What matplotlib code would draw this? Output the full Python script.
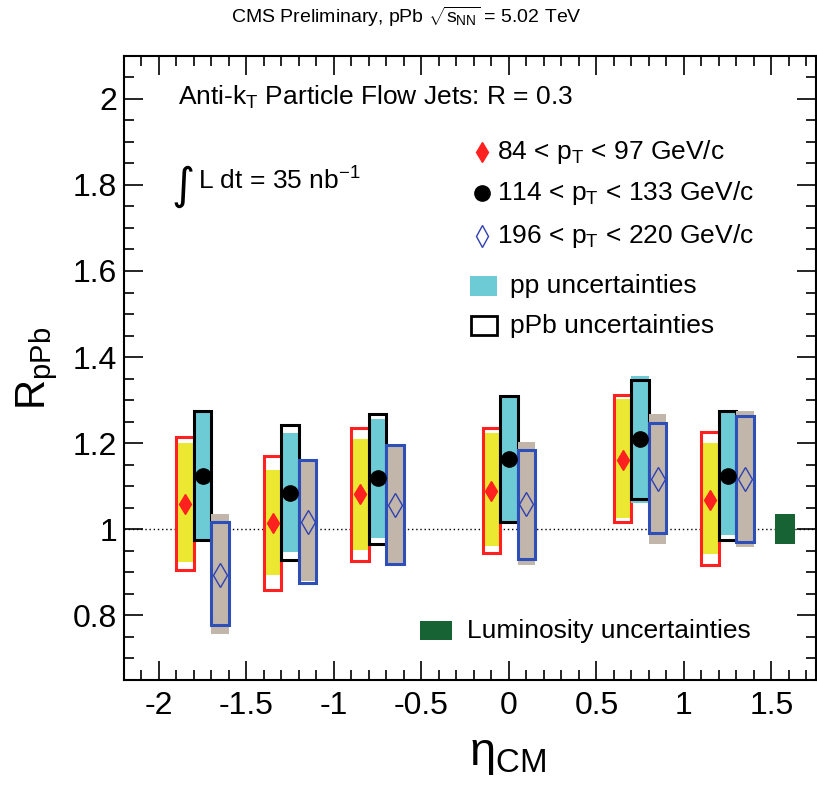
import matplotlib
matplotlib.use("Agg")
import matplotlib.pyplot as plt
from matplotlib.patches import Rectangle
from matplotlib.ticker import MultipleLocator

plt.rcParams['font.family'] = ['Liberation Sans', 'DejaVu Sans']
plt.rcParams['mathtext.fontset'] = 'custom'
plt.rcParams['mathtext.rm'] = 'Liberation Sans'
plt.rcParams['mathtext.it'] = 'Liberation Sans'
plt.rcParams['mathtext.bf'] = 'Liberation Sans:bold'

# eta_CM bin centres, the three pT selections are shifted by -0.1 / 0 / +0.1
eta = [-1.75, -1.25, -0.75, 0.0, 0.75, 1.25]
shift = [-0.1, 0.0, 0.1]

# 84 < pT < 97
r84 = [1.058, 1.014, 1.081, 1.090, 1.161, 1.067]
r84_ppb_lo = [0.906, 0.860, 0.927, 0.946, 1.016, 0.916]
r84_ppb_hi = [1.214, 1.171, 1.236, 1.236, 1.312, 1.227]
r84_pp_lo = [0.923, 0.894, 0.952, 0.962, 1.027, 0.942]
r84_pp_hi = [1.201, 1.138, 1.210, 1.223, 1.303, 1.200]

# 114 < pT < 133
r114 = [1.124, 1.084, 1.119, 1.163, 1.209, 1.124]
r114_ppb_lo = [0.975, 0.929, 0.967, 1.018, 1.070, 0.975]
r114_ppb_hi = [1.274, 1.243, 1.267, 1.309, 1.347, 1.274]
r114_pp_lo = [0.978, 0.948, 0.979, 1.020, 1.060, 0.987]
r114_pp_hi = [1.270, 1.223, 1.257, 1.305, 1.357, 1.270]

# 196 < pT < 220
r196 = [0.894, 1.016, 1.057, 1.058, 1.116, 1.116]
r196_ppb_lo = [0.777, 0.876, 0.919, 0.931, 0.991, 0.971]
r196_ppb_hi = [1.018, 1.161, 1.195, 1.184, 1.247, 1.264]
r196_pp_lo = [0.757, 0.880, 0.922, 0.917, 0.966, 0.960]
r196_pp_hi = [1.036, 1.158, 1.192, 1.202, 1.268, 1.275]

lumi_eta = 1.58
lumi_unc = 0.035

labels = ["84 < p$_{\\mathrm{T}}$ < 97 GeV/c",
          "114 < p$_{\\mathrm{T}}$ < 133 GeV/c",
          "196 < p$_{\\mathrm{T}}$ < 220 GeV/c"]

series = [
    (r84, r84_ppb_lo, r84_ppb_hi, r84_pp_lo, r84_pp_hi, '#ece832', '#ff2020'),
    (r114, r114_ppb_lo, r114_ppb_hi, r114_pp_lo, r114_pp_hi, '#6dcbd6', 'black'),
    (r196, r196_ppb_lo, r196_ppb_hi, r196_pp_lo, r196_pp_hi, '#c2b6aa', '#2f4fb8'),
]

fig = plt.figure(figsize=(8.17, 7.88), dpi=100)
ax = fig.add_axes([124/817, 108/788, 692/817, 624.3/788])

box_w = 0.1
for i, (vals, plo, phi, qlo, qhi, fill, edge) in enumerate(series):
    xs = [e + shift[i] for e in eta]
    ax.bar(xs, [h - l for l, h in zip(qlo, qhi)], bottom=qlo, width=box_w,
           color=fill, linewidth=0, zorder=2 + i)
    ax.bar(xs, [h - l for l, h in zip(plo, phi)], bottom=plo, width=box_w,
           fill=False, edgecolor=edge, linewidth=2.2, zorder=2 + i)

ax.bar([lumi_eta], [2 * lumi_unc], bottom=[1 - lumi_unc], width=0.115,
       color='#176333', linewidth=0, zorder=2)

ax.axhline(1.0, color='black', linestyle=(0, (1, 2)), linewidth=1.0, zorder=1.5)

xs = [e + shift[0] for e in eta]
ax.plot(xs, r84, linestyle='none', marker='d', markersize=10, color='#ff2020', zorder=10)
xs = [e + shift[1] for e in eta]
ax.plot(xs, r114, linestyle='none', marker='o', markersize=11, color='black', zorder=10)
xs = [e + shift[2] for e in eta]
ax.plot(xs, r196, linestyle='none', marker='d', markersize=12, markerfacecolor='none',
        markeredgecolor='#3040b0', markeredgewidth=1.0, zorder=10)

ax.set_xlim(-2.2, 1.755)
ax.set_ylim(0.65, 2.1)
ax.xaxis.set_minor_locator(MultipleLocator(0.1))
ax.yaxis.set_minor_locator(MultipleLocator(0.05))
ax.set_xticks([-2, -1.5, -1, -0.5, 0, 0.5, 1, 1.5])
ax.set_xticklabels(['-2', '-1.5', '-1', '-0.5', '0', '0.5', '1', '1.5'])
ax.set_yticks([0.8, 1.0, 1.2, 1.4, 1.6, 1.8, 2.0])
ax.set_yticklabels(['0.8', '1', '1.2', '1.4', '1.6', '1.8', '2'])
ax.tick_params(which='both', direction='in', top=True, right=True, width=1.2)
ax.tick_params(which='major', length=14, labelsize=23)
ax.tick_params(which='minor', length=7)
ax.tick_params(axis='x', pad=8)
ax.tick_params(axis='y', pad=5)
for s in ax.spines.values():
    s.set_linewidth(1.5)

ax.set_xlabel('η$_{\\mathrm{CM}}$', fontsize=34)
ax.xaxis.set_label_coords((508 - 124) / 692, -0.085)
ax.set_ylabel('R$_{\\mathrm{pPb}}$', fontsize=30)
ax.yaxis.set_label_coords((60 - 124) / 692, (680 - 368) / 624.3)

fig.text(406 / 817, 1 - 17 / 788, 'CMS Preliminary, pPb $\\sqrt{s_{\\mathrm{NN}}}$ = 5.02 TeV',
         ha='center', va='center', fontsize=14)

def axpos(px, py):
    return (px - 124) / 692, (680 - py) / 624.3

ax.text(*axpos(178, 97), 'Anti-k$_{\\mathrm{T}}$ Particle Flow Jets: R = 0.3',
        transform=ax.transAxes, ha='left', va='center', fontsize=19)
ax.text(*axpos(195, 186), '∫', transform=ax.transAxes, ha='right', va='center',
        fontsize=32, family=['DejaVu Sans'])
ax.text(*axpos(198, 181), 'L dt = 35 nb$^{\\mathrm{-1}}$', transform=ax.transAxes,
        ha='left', va='center', fontsize=19)

# legend
leg_y = [152, 193, 236]
ax.plot(*axpos(482, leg_y[0]), marker='d', markersize=10, color='#ff2020',
        transform=ax.transAxes, clip_on=False)
ax.plot(*axpos(482, leg_y[1]), marker='o', markersize=11, color='black',
        transform=ax.transAxes, clip_on=False)
ax.plot(*axpos(482, leg_y[2]), marker='d', markersize=11, markerfacecolor='none',
        markeredgecolor='#3040b0', markeredgewidth=1.0, transform=ax.transAxes, clip_on=False)
for lab, yy in zip(labels, leg_y):
    ax.text(*axpos(497, yy), lab, transform=ax.transAxes, ha='left', va='center', fontsize=19)

x0, y0 = axpos(470, 296)
x1, y1 = axpos(497, 276)
ax.add_patch(Rectangle((x0, y0), x1 - x0, y1 - y0, transform=ax.transAxes,
                       facecolor='#6dcbd6', edgecolor='none'))
ax.text(*axpos(510, 286), 'pp uncertainties', transform=ax.transAxes,
        ha='left', va='center', fontsize=19)
x0, y0 = axpos(471, 335)
x1, y1 = axpos(497, 316)
ax.add_patch(Rectangle((x0, y0), x1 - x0, y1 - y0, transform=ax.transAxes,
                       facecolor='none', edgecolor='black', linewidth=2))
ax.text(*axpos(510, 326), 'pPb uncertainties', transform=ax.transAxes,
        ha='left', va='center', fontsize=19)
x0, y0 = axpos(420, 640)
x1, y1 = axpos(452, 621)
ax.add_patch(Rectangle((x0, y0), x1 - x0, y1 - y0, transform=ax.transAxes,
                       facecolor='#176333', edgecolor='none'))
ax.text(*axpos(467, 631), 'Luminosity uncertainties', transform=ax.transAxes,
        ha='left', va='center', fontsize=19)

fig.savefig('out.png', dpi=100)
